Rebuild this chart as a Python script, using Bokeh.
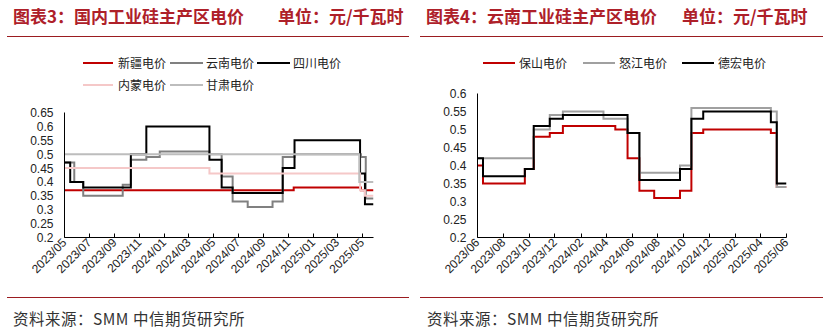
import datetime as dt
from bokeh.plotting import figure
from bokeh.layouts import row, column
from bokeh.models import Div, FixedTicker, DatetimeTickFormatter, Range1d
from bokeh.embed import file_html
from bokeh.resources import INLINE


def d(s):
    return dt.datetime.strptime(s, "%Y-%m-%d")


# ---------------- Data: chart 3 (国内工业硅主产区电价) ----------------
xj_dates = ["2023-05-01", "2024-11-14", "2025-04-28", "2025-05-29"]
xj_vals = [0.37, 0.38, 0.37, 0.37]

yn_dates = ["2023-05-01", "2023-05-25", "2023-06-16", "2023-09-21", "2023-10-11", "2023-11-18",
            "2023-12-21", "2024-04-21", "2024-05-21", "2024-06-17", "2024-07-24", "2024-09-23",
            "2024-10-18", "2024-11-16", "2025-04-28", "2025-05-10", "2025-05-29"]
yn_vals = [0.47, 0.40, 0.35, 0.39, 0.48, 0.49, 0.51, 0.50, 0.42, 0.33, 0.31, 0.33,
           0.49, 0.50, 0.49, 0.34, 0.34]

sc_dates = ["2023-05-01", "2023-05-15", "2023-06-16", "2023-10-11", "2023-11-18", "2024-04-21",
            "2024-05-21", "2024-06-17", "2024-10-18", "2024-11-16", "2025-04-26", "2025-05-08",
            "2025-05-29"]
sc_vals = [0.47, 0.40, 0.38, 0.50, 0.60, 0.48, 0.38, 0.36, 0.45, 0.55, 0.43, 0.32, 0.32]

nm_dates = ["2023-05-01", "2024-04-21", "2025-04-26", "2025-05-08", "2025-05-29"]
nm_vals = [0.45, 0.43, 0.37, 0.35, 0.35]

gs_dates = ["2023-05-01", "2025-04-24", "2025-05-29"]
gs_vals = [0.50, 0.40, 0.40]

left_x_start, left_x_end = "2023-05-01", "2025-05-29"
left_ticks = ["2023-05-01", "2023-07-01", "2023-09-01", "2023-11-01", "2024-01-01", "2024-03-01",
              "2024-05-01", "2024-07-01", "2024-09-01", "2024-11-01", "2025-01-01", "2025-03-01",
              "2025-05-01"]
left_yticks = [0.2, 0.25, 0.3, 0.35, 0.4, 0.45, 0.5, 0.55, 0.6, 0.65]
left_ylabels = ["0.2", "0.25", "0.3", "0.35", "0.4", "0.45", "0.5", "0.55", "0.6", "0.65"]
left_names = ["新疆电价", "云南电价", "四川电价", "内蒙电价", "甘肃电价"]

# ---------------- Data: chart 4 (云南工业硅主产区电价) ----------------
bs_dates = ["2023-06-01", "2023-06-14", "2023-09-21", "2023-10-12", "2023-11-19", "2023-12-20",
            "2024-04-22", "2024-05-21", "2024-06-18", "2024-07-23", "2024-09-22", "2024-10-19",
            "2024-11-16", "2025-04-25", "2025-05-09", "2025-06-01"]
bs_vals = [0.40, 0.35, 0.39, 0.48, 0.49, 0.51, 0.50, 0.42, 0.33, 0.31, 0.33, 0.49,
           0.50, 0.49, 0.34, 0.34]

nj_dates = ["2023-06-01", "2023-10-12", "2023-11-19", "2023-12-20", "2024-03-25", "2024-05-21",
            "2024-06-18", "2024-09-22", "2024-10-19", "2025-04-25", "2025-05-09", "2025-06-01"]
nj_vals = [0.42, 0.50, 0.54, 0.55, 0.53, 0.49, 0.38, 0.40, 0.56, 0.55, 0.34, 0.34]

dh_dates = ["2023-06-01", "2023-06-14", "2023-09-21", "2023-10-12", "2023-11-19", "2023-12-20",
            "2024-05-21", "2024-06-18", "2024-09-22", "2024-10-19", "2024-11-16", "2025-04-25",
            "2025-05-09", "2025-06-01"]
dh_vals = [0.42, 0.37, 0.39, 0.51, 0.53, 0.54, 0.49, 0.36, 0.39, 0.53, 0.55, 0.52, 0.35, 0.35]

right_x_start, right_x_end = "2023-06-01", "2025-06-01"
right_ticks = ["2023-06-01", "2023-08-01", "2023-10-01", "2023-12-01", "2024-02-01", "2024-04-01",
               "2024-06-01", "2024-08-01", "2024-10-01", "2024-12-01", "2025-02-01", "2025-04-01",
               "2025-06-01"]
right_yticks = [0.2, 0.25, 0.3, 0.35, 0.4, 0.45, 0.5, 0.55, 0.6]
right_ylabels = ["0.2", "0.25", "0.3", "0.35", "0.4", "0.45", "0.5", "0.55", "0.6"]
right_names = ["保山电价", "怒江电价", "德宏电价"]

title_left = ["图表3：国内工业硅主产区电价", "单位：元/千瓦时"]
title_right = ["图表4：云南工业硅主产区电价", "单位：元/千瓦时"]
source_text = "资料来源：SMM 中信期货研究所"

EPOCH = dt.datetime(1970, 1, 1)


def ms(s):
    return (d(s) - EPOCH).total_seconds() * 1000.0


CJK = "'Noto Sans CJK SC', sans-serif"
TITLE_RED = "#AE2029"
LINE_RED = "#9B1C20"
FMT = "%Y/%m"

C_XJ, C_YN, C_SC, C_NM, C_GS = "#C00000", "#808080", "#000000", "#F5C8C8", "#BDBDBD"
C_BS, C_NJ, C_DH = "#C00000", "#A0A0A0", "#000000"


def make_fig(height, top, bottom, left, right, xs, xe, ticks, yticks, ylabels):
    p = figure(width=414, height=height, x_axis_type="datetime",
               x_range=Range1d(d(xs), d(xe)), y_range=Range1d(yticks[0], yticks[-1]),
               min_border_left=left, min_border_right=414 - right,
               min_border_top=top, min_border_bottom=bottom,
               output_backend="svg", toolbar_location=None, margin=(0, 0, 0, 0))
    p.outline_line_color = None
    p.grid.visible = False
    p.background_fill_color = "white"
    p.border_fill_color = "white"
    p.xaxis.ticker = FixedTicker(ticks=[ms(t) for t in ticks])
    p.xaxis.formatter = DatetimeTickFormatter(
        microseconds=FMT, milliseconds=FMT, seconds=FMT, minsec=FMT, minutes=FMT,
        hourmin=FMT, hours=FMT, days=FMT, months=FMT, years=FMT)
    p.xaxis.major_label_orientation = 0.785398
    p.xaxis.major_tick_in = 4
    p.xaxis.major_tick_out = 0
    p.xaxis.minor_tick_line_color = None
    p.xaxis.major_label_standoff = 3
    p.yaxis.ticker = FixedTicker(ticks=yticks)
    p.yaxis.major_label_overrides = {t: l for t, l in zip(yticks, ylabels)}
    p.yaxis.major_tick_in = 0
    p.yaxis.major_tick_out = 0
    p.yaxis.minor_tick_line_color = None
    p.yaxis.major_label_standoff = 11
    for ax in (p.xaxis, p.yaxis):
        ax.axis_line_color = "#000000"
        ax.axis_line_width = 1
        ax.major_tick_line_color = "#000000"
        ax.major_label_text_font = "Liberation Sans"
        ax.major_label_text_font_size = "12px"
        ax.major_label_text_color = "#222222"
    return p


def span(x, y, text, size, color, bold=False, spacing=0):
    w = "bold" if bold else "normal"
    return (f'<span style="position:absolute;left:{x}px;top:{y}px;font-family:{CJK};'
            f'font-size:{size}px;font-weight:{w};color:{color};line-height:20px;'
            f'letter-spacing:{spacing}px;white-space:nowrap;">{text}</span>')


def bar(x0, x1, y, h, color):
    return (f'<div style="position:absolute;left:{x0}px;top:{y}px;width:{x1 - x0}px;'
            f'height:{h}px;background:{color};"></div>')


def wrap(inner, w, h):
    return f'<div style="position:relative;width:{w}px;height:{h}px;overflow:visible;">{inner}</div>'


# ---------------- Left panel ----------------
top_h1 = 95
html = span(13, 6, title_left[0], 17, TITLE_RED, True) + span(278, 6, title_left[1], 17, TITLE_RED, True)
html += bar(7, 409, 36, 1, LINE_RED)
leg1 = [(83, 113, 118, 63, C_XJ), (170, 203, 206, 63, C_YN), (257, 290, 293, 63, C_SC),
        (83, 113, 118, 85, C_NM), (170, 203, 206, 85, C_GS)]
for (x0, x1, tx, cy, col), name in zip(leg1, left_names):
    html += bar(x0, x1, cy - 1, 2, col) + span(tx, cy - 10, name, 12, "#222222")
div_top1 = Div(text=wrap(html, 414, top_h1), width=414, height=top_h1, margin=(0, 0, 0, 0))

p1 = make_fig(290 - top_h1, 112 - top_h1, 290 - 237, 64, 373,
              left_x_start, left_x_end, left_ticks, left_yticks, left_ylabels)
for dates, vals, col in [(xj_dates, xj_vals, C_XJ), (yn_dates, yn_vals, C_YN), (sc_dates, sc_vals, C_SC),
                         (nm_dates, nm_vals, C_NM), (gs_dates, gs_vals, C_GS)]:
    p1.step([d(s) for s in dates], vals, mode="after", line_color=col, line_width=2, line_join="miter")

html = bar(7, 409, 7, 1, LINE_RED) + span(13, 18, source_text, 15.5, "#333333", spacing=0.5)
div_bot1 = Div(text=wrap(html, 414, 45), width=414, height=45, margin=(0, 0, 0, 0))

# ---------------- Right panel ----------------
top_h2 = 80
html = span(12, 6, title_right[0], 17, TITLE_RED, True) + span(268, 6, title_right[1], 17, TITLE_RED, True)
html += bar(6, 409, 36, 1, LINE_RED)
leg2 = [(69, 101, 105, 63, C_BS), (169, 201, 205, 63, C_NJ), (268, 300, 304, 63, C_DH)]
for (x0, x1, tx, cy, col), name in zip(leg2, right_names):
    html += bar(x0, x1, cy - 1, 2, col) + span(tx, cy - 10, name, 12, "#222222")
div_top2 = Div(text=wrap(html, 414, top_h2), width=414, height=top_h2, margin=(0, 0, 0, 0))

p2 = make_fig(290 - top_h2, 93 - top_h2, 290 - 237, 63, 372,
              right_x_start, right_x_end, right_ticks, right_yticks, right_ylabels)
for dates, vals, col in [(bs_dates, bs_vals, C_BS), (nj_dates, nj_vals, C_NJ), (dh_dates, dh_vals, C_DH)]:
    p2.step([d(s) for s in dates], vals, mode="after", line_color=col, line_width=2, line_join="miter")

html = bar(6, 409, 7, 1, LINE_RED) + span(13, 18, source_text, 15.5, "#333333", spacing=0.5)
div_bot2 = Div(text=wrap(html, 414, 45), width=414, height=45, margin=(0, 0, 0, 0))

left_col = column(div_top1, p1, div_bot1, spacing=0, margin=(0, 0, 0, 0))
right_col = column(div_top2, p2, div_bot2, spacing=0, margin=(0, 0, 0, 0))
layout = row(left_col, right_col, spacing=0, margin=(0, 0, 0, 0))
open("out.html", "w").write(file_html(layout, INLINE))
